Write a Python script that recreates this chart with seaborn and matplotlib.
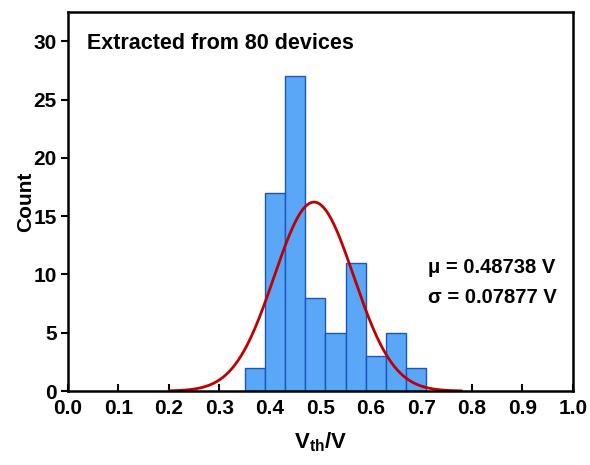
import numpy as np
import pandas as pd
import matplotlib
matplotlib.use("Agg")
import matplotlib.pyplot as plt
import seaborn as sns

# Data
bin_edges = [0.35, 0.39, 0.43, 0.47, 0.51, 0.55, 0.59, 0.63, 0.67, 0.71]
counts = [2, 17, 27, 8, 5, 11, 3, 5, 2]
mu = 0.48738
sigma = 0.07877
n_devices = 80
x_ticks = [0.0, 0.1, 0.2, 0.3, 0.4, 0.5, 0.6, 0.7, 0.8, 0.9, 1.0]
y_ticks = [0, 5, 10, 15, 20, 25, 30]

sns.set_style("white")
plt.rcParams['font.family'] = ['Liberation Sans', 'DejaVu Sans']
plt.rcParams['font.weight'] = 'bold'
plt.rcParams['text.color'] = 'black'
plt.rcParams['axes.labelcolor'] = 'black'
plt.rcParams['xtick.color'] = 'black'
plt.rcParams['ytick.color'] = 'black'

fig = plt.figure(figsize=(5.9, 4.65), dpi=100)
ax = fig.add_axes([0.115, 0.159, 0.856, 0.815])

centers = [(a + b) / 2 for a, b in zip(bin_edges[:-1], bin_edges[1:])]
df = pd.DataFrame({"v": centers, "w": counts})
sns.histplot(data=df, x="v", weights="w", bins=bin_edges, ax=ax,
             color="#5aa6f7", edgecolor="#1a56bd", linewidth=1.0, alpha=1.0)

bw = bin_edges[1] - bin_edges[0]
xs = np.linspace(0.2, 0.78, 300)
ys = n_devices * bw / (sigma * np.sqrt(2 * np.pi)) * np.exp(-0.5 * ((xs - mu) / sigma) ** 2)
sns.lineplot(x=xs, y=ys, ax=ax, color="#c00000", linewidth=2.0)

ax.set_xlim(0, 1.0)
ax.set_ylim(0, 32.5)
ax.set_xticks(x_ticks)
ax.set_xticklabels([f"{t:.1f}" for t in x_ticks], fontsize=15, fontweight='bold')
ax.set_yticks(y_ticks)
ax.set_yticklabels([str(t) for t in y_ticks], fontsize=15, fontweight='bold')
ax.tick_params(axis='x', bottom=True, direction='in', length=5, width=1.5, pad=6, colors='black')
ax.tick_params(axis='y', left=True, direction='out', length=5, width=1.5, pad=3, colors='black')
for s in ax.spines.values():
    s.set_linewidth(1.8)
    s.set_color("black")

ax.set_xlabel(r"V$_{\mathregular{th}}$/V", fontsize=16, fontweight='bold', labelpad=9)
ax.set_ylabel("Count", fontsize=15, fontweight='bold', labelpad=-1)

ax.text(0.038, 0.918, "Extracted from 80 devices", transform=ax.transAxes,
        fontsize=15.5, fontweight='bold', va='center', ha='left')
ax.text(0.713, 0.325, f"μ = {mu:.5f} V", transform=ax.transAxes,
        fontsize=14.5, fontweight='bold', va='center', ha='left')
ax.text(0.713, 0.248, f"σ = {sigma:.5f} V", transform=ax.transAxes,
        fontsize=14.5, fontweight='bold', va='center', ha='left')

fig.savefig("out.png", dpi=100)
